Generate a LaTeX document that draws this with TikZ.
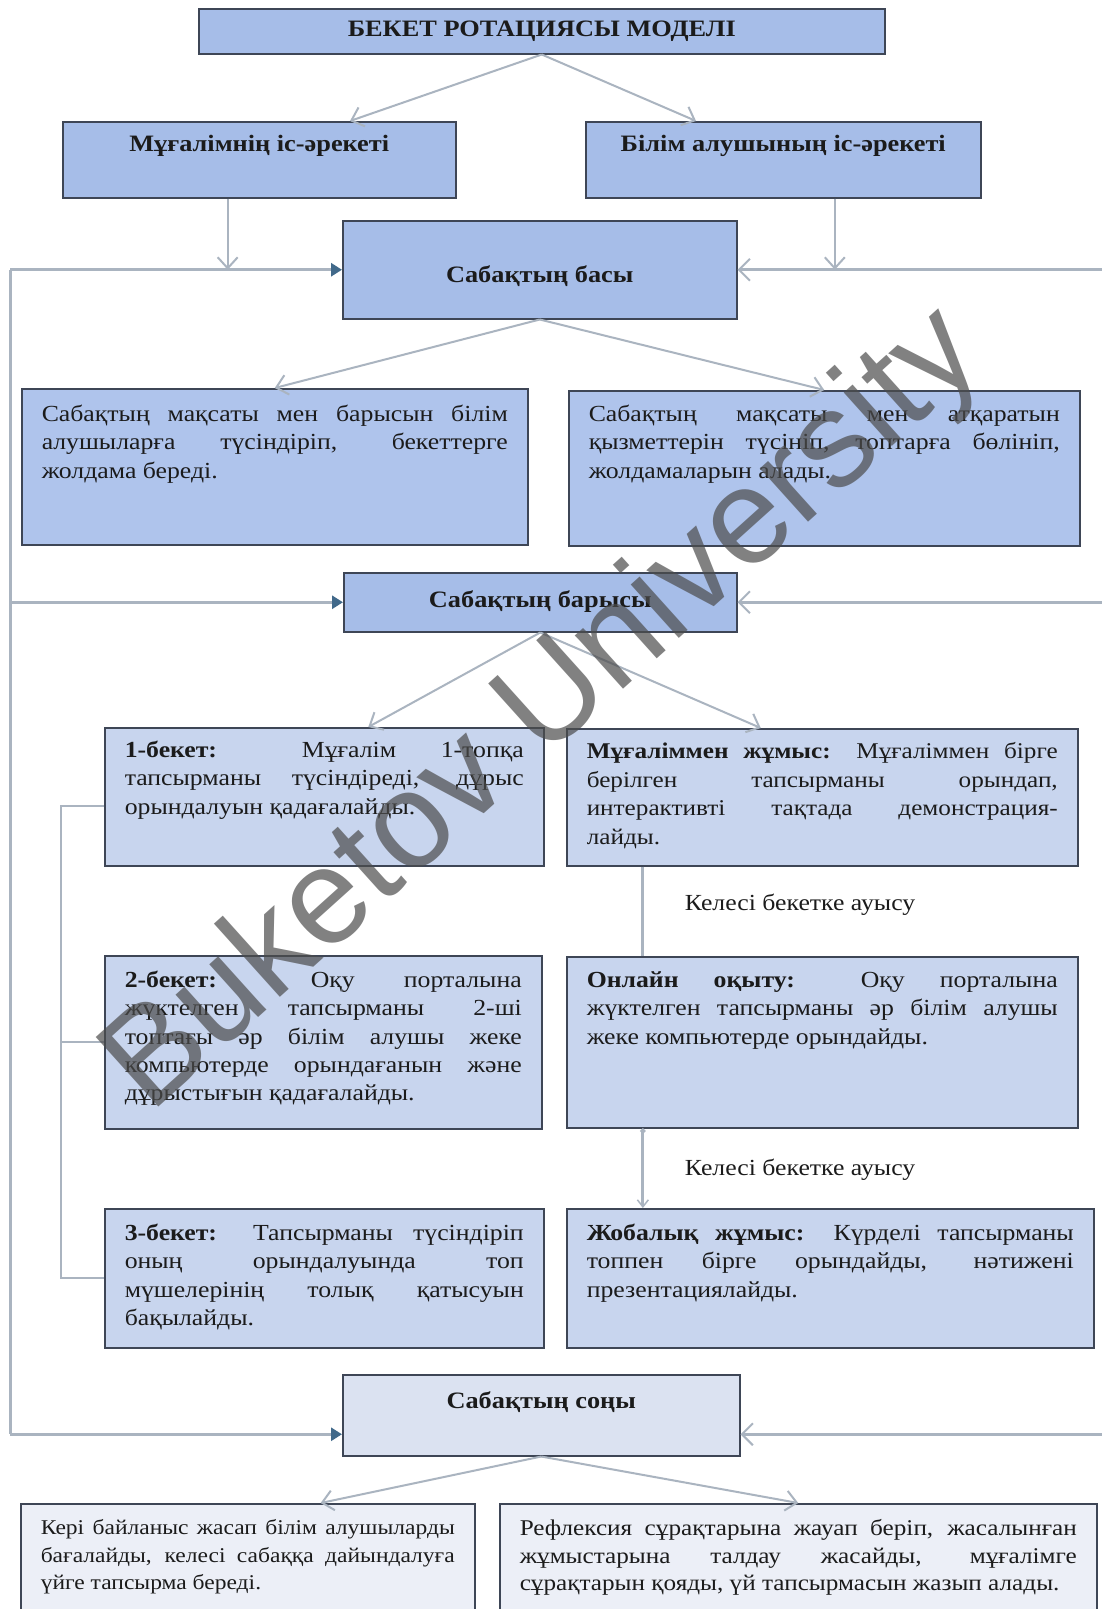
\documentclass[tikz,border=0pt]{standalone}
\usepackage{fontspec}
\setmainfont[FakeStretch=1.12]{Liberation Serif}
\newfontfamily\markfont{Liberation Sans}
\usetikzlibrary{arrows.meta,calc,shadows}

\definecolor{boxline}{HTML}{3E4656}
\definecolor{headblue}{HTML}{A6BDE8}
\definecolor{goalblue}{HTML}{AFC4EC}
\definecolor{stageblue}{HTML}{C8D5EE}
\definecolor{endblue}{HTML}{DBE2F1}
\definecolor{noteblue}{HTML}{ECEFF7}
\definecolor{linkgray}{HTML}{AAB4C0}
\definecolor{tipblue}{HTML}{41698A}
\definecolor{inktext}{HTML}{1B1B1B}

\hyphenpenalty=10000
\exhyphenpenalty=10000
\tolerance=9000
\hbadness=10000
\emergencystretch=20pt

% text block of a box: width, height, top gap, text
\newcommand{\boxbody}[4]{\parbox[c][#2pt][t]{#1pt}{\vspace*{#3pt}#4}}

\begin{document}
\begin{tikzpicture}[x=1pt,y=-1pt,
    box/.style={draw=boxline, line width=1.5pt, anchor=north west, inner xsep=20pt, inner ysep=0pt,
      text=inktext, drop shadow={shadow xshift=1pt,shadow yshift=-1.5pt,fill=black!40,opacity=0.5}},
    headbox/.style={box, fill=headblue, font=\bfseries\fontsize{23.5}{28}\selectfont},
    goalbox/.style={box, fill=goalblue, font=\fontsize{23}{28.6}\selectfont},
    stagebox/.style={box, fill=stageblue, font=\fontsize{23}{28.4}\selectfont},
    endbox/.style={box, fill=endblue, font=\bfseries\fontsize{23.5}{28}\selectfont},
    notebox/.style={box, fill=noteblue, font=\fontsize{21}{27.5}\selectfont},
    hint/.style={text=inktext, font=\fontsize{23}{28}\selectfont},
    link/.style={draw=linkgray, line width=2pt},
    tolink/.style={link, -{Straight Barb[length=11pt,width=20pt,line width=2pt]}},
    chain/.style={draw=linkgray, line width=3pt},
    feed/.style={draw=linkgray, line width=3pt},
    feedin/.style={feed, -{Triangle[length=11pt,width=13pt,color=tipblue]}},
    backin/.style={feed, -{Straight Barb[length=11pt,width=22pt,line width=2pt]}}]

  \clip (0,0) rectangle (1102,1609);
  \fill[white] (0,0) rectangle (1102,1609);

  % Header
  \node[headbox, minimum width=686pt, minimum height=45pt, inner xsep=0pt] (title) at (198,8) {БЕКЕТ РОТАЦИЯСЫ МОДЕЛІ};
  \node[headbox] (teach) at (62,121) {\boxbody{353}{76}{13}{\centering Мұғалімнің іс-әрекеті}};
  \node[headbox] (learn) at (585,121) {\boxbody{355}{76}{13}{\centering Білім алушының іс-әрекеті}};

  % Lesson start
  \node[headbox] (start) at (342,220) {\boxbody{354}{98}{45}{\centering Сабақтың басы}};
  \node[goalbox] (goal1) at (21,388) {\boxbody{466}{156}{16}{Сабақтың мақсаты мен барысын білім\linebreak алушыларға түсіндіріп, бекеттерге\linebreak жолдама береді.}};
  \node[goalbox] (goal2) at (568,390) {\boxbody{471}{155}{14}{Сабақтың мақсаты мен атқаратын\linebreak қызметтерін түсініп, топтарға бөлініп,\linebreak жолдамаларын алады.}};

  % Lesson course
  \node[headbox] (process) at (343,572) {\boxbody{353}{59}{18}{\centering Сабақтың барысы}};
  \node[stagebox] (st1) at (104,727) {\boxbody{399}{138}{13}{\textbf{1-бекет:} Мұғалім 1-топқа\linebreak тапсырманы түсіндіреді, дұрыс\linebreak орындалуын қадағалайды.}};
  \node[stagebox, font=\fontsize{22.5}{28.4}\selectfont] (wt) at (566,728) {\boxbody{471}{137}{14}{\textbf{Мұғаліммен жұмыс:} Мұғаліммен бірге\linebreak берілген тапсырманы орындап,\linebreak интерактивті тақтада демонстрация-\linebreak лайды.}};
  \node[stagebox] (st2) at (104,955) {\boxbody{397}{173}{15}{\textbf{2-бекет:} Оқу порталына\linebreak жүктелген тапсырманы 2-ші\linebreak топтағы әр білім алушы жеке\linebreak компьютерде орындағанын және\linebreak дұрыстығын қадағалайды.}};
  \node[stagebox] (online) at (566,956) {\boxbody{471}{171}{15}{\textbf{Онлайн оқыту:} Оқу порталына\linebreak жүктелген тапсырманы әр білім алушы\linebreak жеке компьютерде орындайды.}};
  \node[stagebox] (st3) at (104,1208) {\boxbody{399}{139}{15}{\textbf{3-бекет:} Тапсырманы түсіндіріп\linebreak оның орындалуында топ\linebreak мүшелерінің толық қатысуын\linebreak бақылайды.}};
  \node[stagebox] (project) at (566,1208) {\boxbody{487}{139}{15}{\textbf{Жобалық жұмыс:} Күрделі тапсырманы\linebreak топпен бірге орындайды, нәтижені\linebreak презентациялайды.}};
  \node[hint] (next1) at (800,905) {Келесі бекетке ауысу};
  \node[hint] (next2) at (800,1170) {Келесі бекетке ауысу};

  % Lesson end
  \node[endbox] (end) at (342,1374) {\boxbody{357}{81}{17}{\centering Сабақтың соңы}};
  \node[notebox] (fb1) at (20,1503) {\boxbody{414}{140}{16}{Кері байланыс жасап білім алушыларды\linebreak бағалайды, келесі сабаққа дайындалуға\linebreak үйге тапсырма береді.}};
  \node[notebox, font=\fontsize{22.5}{27.5}\selectfont] (fb2) at (499,1503) {\boxbody{557}{140}{16}{Рефлексия сұрақтарына жауап беріп, жасалынған\linebreak жұмыстарына талдау жасайды, мұғалімге\linebreak сұрақтарын қояды, үй тапсырмасын жазып алады.}};

  % Arrows down the tree
  \draw[tolink] (title.south) -- ($(teach.north west)!0.73!(teach.north east)$);
  \draw[tolink] (title.south) -- ($(learn.north west)!0.28!(learn.north east)$);
  \coordinate (tdrop) at ($(teach.south west)!0.42!(teach.south east)$);
  \coordinate (ldrop) at ($(learn.south west)!0.63!(learn.south east)$);
  \draw[tolink] (tdrop) -- (tdrop |- start.west);
  \draw[tolink] (ldrop) -- (ldrop |- start.west);
  \draw[tolink] (start.south) -- (goal1.north);
  \draw[tolink] (start.south) -- (goal2.north);
  \draw[tolink] (process.south) -- ($(st1.north west)!0.6!(st1.north east)$);
  \draw[tolink] (process.south) -- ($(wt.north west)!0.38!(wt.north east)$);
  \draw[tolink] (end.south) -- ($(fb1.north west)!0.66!(fb1.north east)$);
  \draw[tolink] (end.south) -- (fb2.north);

  % Side rails
  \coordinate (railL) at (10,0);
  \coordinate (railR) at (1102,0);
  \coordinate (endin) at ($(end.west)+(0,19)$);
  \coordinate (endout) at ($(end.east)+(0,19)$);
  \draw[feed] (railL |- start.west) -- (railL |- endin);
  \draw[feedin] (railL |- start.west) -- (start.west);
  \draw[feedin] (railL |- process.west) -- (process.west);
  \draw[feedin] (railL |- endin) -- (endin);
  \draw[backin] (railR |- start.east) -- (start.east);
  \draw[backin] (railR |- process.east) -- (process.east);
  \draw[backin] (railR |- endout) -- (endout);

  % Station chain
  \coordinate (hop) at ($(wt.south west)!0.15!(wt.south east)$);
  \draw[chain] (hop) -- (hop |- online.north);
  \draw[chain, {Circle[length=5pt]}-{Straight Barb[length=7pt,width=11pt,line width=1.5pt]}] (hop |- online.south) -- (hop |- project.north);

  % Station bracket
  \coordinate (brk) at (61,0);
  \draw[link] ($(st1.west)+(0,9)$) -| (brk |- st3.west) -- (st3.west);
  \draw[link] (brk |- st2.west) -- (st2.west);

  % Watermark
  \node[rotate=42, text=black!70, text opacity=0.7, font=\markfont\fontsize{136}{136}\selectfont] (mark) at (545,712) {Buketov University};
\end{tikzpicture}
\end{document}
